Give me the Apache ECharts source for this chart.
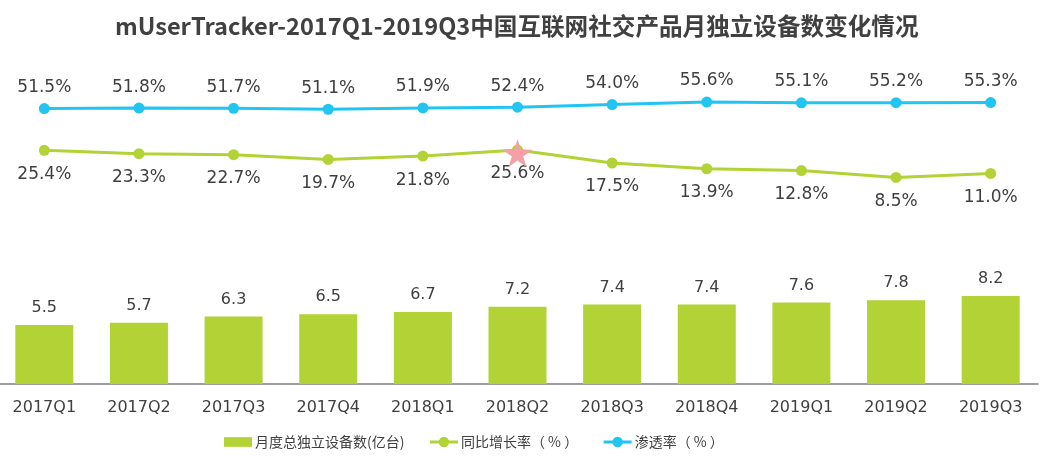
<!DOCTYPE html>
<html><head><meta charset="utf-8">
<script src="https://cdn.jsdelivr.net/npm/echarts@6/dist/echarts.min.js"></script>
<style>html,body{margin:0;padding:0;background:#fff;}#c{width:1047px;height:462px;}</style>
</head><body><div id="c"></div>
<script>
const categories = ['2017Q1','2017Q2','2017Q3','2017Q4','2018Q1','2018Q2','2018Q3','2018Q4','2019Q1','2019Q2','2019Q3'];
const devices = [5.5,5.7,6.3,6.5,6.7,7.2,7.4,7.4,7.6,7.8,8.2];
const growth = [25.4,23.3,22.7,19.7,21.8,25.6,17.5,13.9,12.8,8.5,11.0];
const penetration = [51.5,51.8,51.7,51.1,51.9,52.4,54.0,55.6,55.1,55.2,55.3];
const starIndex = 5;

const GREEN = '#b2d235', BLUE = '#22c5ef', TXT = '#404040';
const NUM_FONT = 'DejaVu Sans';
const chart = echarts.init(document.getElementById('c'));
chart.setOption({
  animation: false,
  title: {
    text: 'mUserTracker-2017Q1-2019Q3中国互联网社交产品月独立设备数变化情况',
    left: 110, top: 9,
    textStyle: { fontFamily: 'Noto Sans CJK SC', fontWeight: 'bold', fontSize: 23.6, color: TXT }
  },
  legend: {
    left: 219, top: 430, itemWidth: 28, itemHeight: 13, itemGap: 24,
    lineStyle: { width: 3 },
    textStyle: { fontFamily: 'Noto Sans CJK SC', fontSize: 14, color: TXT, padding: [0, 0, 0, -2] },
    data: [
      { name: '月度总独立设备数(亿台)', icon: 'path://M0,0 L26,0 L26,9 L0,9 Z' },
      { name: '同比增长率（ % ）' },
      { name: '渗透率（ % ）' }
    ]
  },
  grid: [
    { left: -3, right: 9, top: 62, bottom: 78, outerBoundsMode: 'none', containLabel: false },
    { left: -3, right: 9, top: 95, bottom: 271, outerBoundsMode: 'none', containLabel: false }
  ],
  xAxis: [
    { type: 'category', data: categories, gridIndex: 0,
      axisLine: { lineStyle: { color: '#7f7f7f', width: 1.5 } },
      axisTick: { show: false },
      axisLabel: { fontFamily: NUM_FONT, fontSize: 16, color: TXT, margin: 16 } },
    { type: 'category', data: categories, gridIndex: 1, show: false }
  ],
  yAxis: [
    { type: 'value', gridIndex: 0, min: 0, max: 30, show: false, splitLine: { show: false } },
    { type: 'value', gridIndex: 1, min: 0, max: 60, show: false, splitLine: { show: false } }
  ],
  series: [
    { name: '月度总独立设备数(亿台)', type: 'bar', data: devices, barWidth: 58,
      xAxisIndex: 0, yAxisIndex: 0,
      itemStyle: { color: GREEN },
      label: { show: true, position: 'top', distance: 9, fontFamily: NUM_FONT, fontSize: 16, color: TXT,
        formatter: p => p.value.toFixed(1) } },
    { name: '同比增长率（ % ）', type: 'line', data: growth, xAxisIndex: 1, yAxisIndex: 1,
      symbol: 'circle', symbolSize: 11, lineStyle: { color: GREEN, width: 3 }, itemStyle: { color: GREEN },
      label: { show: true, position: 'bottom', distance: 10, fontFamily: NUM_FONT, fontSize: 17, color: TXT,
        formatter: p => p.value.toFixed(1) + '%' },
      markPoint: {
        symbol: 'path://M50,0 L61,35 L98,35 L68,57 L79,91 L50,70 L21,91 L32,57 L2,35 L39,35 Z',
        symbolSize: [30, 28], symbolOffset: [0, 3],
        itemStyle: { color: '#f4a0a6' }, label: { show: false },
        data: [{ coord: [categories[starIndex], growth[starIndex]] }]
      } },
    { name: '渗透率（ % ）', type: 'line', data: penetration, xAxisIndex: 1, yAxisIndex: 1,
      symbol: 'circle', symbolSize: 11, lineStyle: { color: BLUE, width: 3 }, itemStyle: { color: BLUE },
      label: { show: true, position: 'top', distance: 7, fontFamily: NUM_FONT, fontSize: 17, color: TXT,
        formatter: p => p.value.toFixed(1) + '%' } }
  ]
});
</script></body></html>
